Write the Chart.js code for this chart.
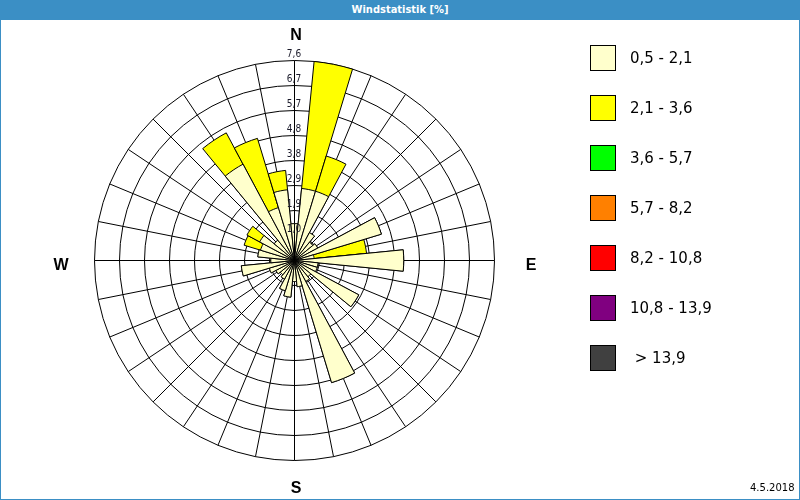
<!DOCTYPE html>
<html>
<head>
<meta charset="utf-8">
<script src="https://cdn.jsdelivr.net/npm/chart.js@4.4.0/dist/chart.umd.min.js"></script>
<style>
html,body{margin:0;padding:0;background:#fff;}
#wrap{position:relative;width:800px;height:500px;overflow:hidden;background:#fff;}
#c{position:absolute;left:0;top:0;}
#titlebar{position:absolute;left:0;top:0;width:800px;height:20px;background:#3b8fc5;color:#fff;
  font:bold 11px "DejaVu Sans Condensed","DejaVu Sans",sans-serif;text-align:center;line-height:19px;}
#frame{position:absolute;left:0;top:0;width:798px;height:498px;border:1px solid #3b8fc5;pointer-events:none;}
.dir{position:absolute;font:bold 16px "Liberation Sans",Arial,sans-serif;color:#000;transform:translate(-50%,-50%);}
.lg{position:absolute;left:590px;width:24px;height:24px;border:1px solid #000;}
.lt{position:absolute;left:630px;font:15px "DejaVu Sans",sans-serif;color:#000;transform:translateY(-50%);white-space:pre;}
#date{position:absolute;left:750px;top:482px;font:10px "DejaVu Sans",sans-serif;color:#000;}
</style>
</head>
<body>
<div id="wrap">
  <canvas id="c" width="800" height="500"></canvas>
  <div id="titlebar"></div>
  <div id="frame"></div>
  <div id="dirs"></div>
  <div id="legend"></div>
  <div id="date">4.5.2018</div>
</div>
<script>
// 32 wind directions (11.25° each), clockwise from north
const directions = ['N','NzO','NNO','NOzN','NO','NOzO','ONO','OzN','O','OzS','OSO','SOzO','SO','SOzS','SSO','SzO',
                    'S','SzW','SSW','SWzS','SW','SWzW','WSW','WzS','W','WzN','WNW','NWzW','NW','NWzN','NNW','NzW'];
// frequency [%] of class 0,5 - 2,1
const light  = [1.4, 2.75, 2.75, 1.2, 0.9, 1.0, 3.45, 0.75, 4.15, 0.9, 0.9, 2.77, 0.8, 0.9, 4.85, 1.0,
                0.8, 1.4, 1.2, 0.8, 0.7, 0.8, 1.0, 2.03, 0.9, 1.4, 1.35, 1.5, 1.0, 4.15, 2.1, 2.7];
// frequency [%] of class 2,1 - 3,6
const yellow = [0, 4.85, 1.4, 0, 0, 0, 0, 2.0, 0, 0, 0, 0, 0, 0, 0, 0,
                0, 0, 0, 0, 0, 0, 0, 0, 0, 0, 0.65, 0.55, 0, 1.35, 2.75, 0.74];
const tickLabels = ['1,0','1,9','2,9','3,8','4,8','5,7','6,7','7,6'];
const scaleMax = 7.6;
const legendLabels = ['0,5 - 2,1','2,1 - 3,6','3,6 - 5,7','5,7 - 8,2','8,2 - 10,8','10,8 - 13,9',' > 13,9'];
const legendColors = ['#ffffcc','#ffff00','#00ff00','#ff8000','#ff0000','#800080','#404040'];
const compass = ['N','E','S','W'];
const titleText = 'Windstatistik [%]';

document.getElementById('titlebar').textContent = titleText;
const dirPos = [[296,35],[531,265],[296,488],[61,265]];
const dirs = document.getElementById('dirs');
compass.forEach((t,i)=>{const d=document.createElement('div');d.className='dir';d.textContent=t;
  d.style.left=dirPos[i][0]+'px';d.style.top=dirPos[i][1]+'px';dirs.appendChild(d);});
const lg = document.getElementById('legend');
legendLabels.forEach((t,i)=>{
  const b=document.createElement('div');b.className='lg';b.style.top=(45+i*50)+'px';b.style.background=legendColors[i];lg.appendChild(b);
  const l=document.createElement('div');l.className='lt';l.style.top=(58+i*50)+'px';l.textContent=t;lg.appendChild(l);
});

// stacked totals (inner class drawn on top of the cumulative one)
const total = light.map((v,i)=>Math.round((v+yellow[i])*100)/100);
// first sector is split into two halves so that sectors are centred on the spokes
const wrapN = a => a.concat([a[0]]);
const sector = 360/directions.length;
const arcAngle = ctx => (ctx.dataIndex === 0 || ctx.dataIndex === directions.length) ? sector/2 : sector;

const pixelAlign = {
  id:'pixelAlign',
  beforeDraw(chart){ chart.ctx.save(); chart.ctx.translate(0.5,0.5); },
  afterDraw(chart){ chart.ctx.restore(); }
};
const tickLbl = {
  id:'tickLbl',
  afterDatasetsDraw(chart){
    const s = chart.scales.r, ctx = chart.ctx;
    ctx.save();
    ctx.font = '10px "DejaVu Sans Condensed", "DejaVu Sans", sans-serif';
    ctx.fillStyle = '#1a1a2a';
    ctx.textAlign = 'center';
    ctx.textBaseline = 'alphabetic';
    s.ticks.forEach((t,i)=>{
      if(i===0) return;
      const d = s.getDistanceFromCenterForValue(t.value);
      ctx.fillText(tickLabels[i-1], s.xCenter-0.5, s.yCenter-d-3.5);
    });
    ctx.restore();
  }
};

new Chart(document.getElementById('c'), {
  type:'polarArea',
  data:{
    labels: directions,
    datasets:[
      {label:legendLabels[0], data:wrapN(light), backgroundColor:legendColors[0], borderColor:'#000', borderWidth:1, angle:arcAngle},
      {label:legendLabels[1], data:wrapN(total), backgroundColor:legendColors[1], borderColor:'#000', borderWidth:1, angle:arcAngle}
    ]
  },
  options:{
    responsive:false,
    animation:false,
    devicePixelRatio:1,
    layout:{padding:{left:94,right:306,top:60,bottom:40}},
    plugins:{legend:{display:false}, title:{display:false}, tooltip:{enabled:false}},
    scales:{
      r:{
        min:0, max:scaleMax, startAngle:0,
        ticks:{display:false, count:tickLabels.length+1},
        grid:{color:'#000', lineWidth:1, circular:true},
        angleLines:{display:true, color:'#000', lineWidth:1},
        pointLabels:{display:false}
      }
    }
  },
  plugins:[pixelAlign, tickLbl]
});
</script>
</body>
</html>
